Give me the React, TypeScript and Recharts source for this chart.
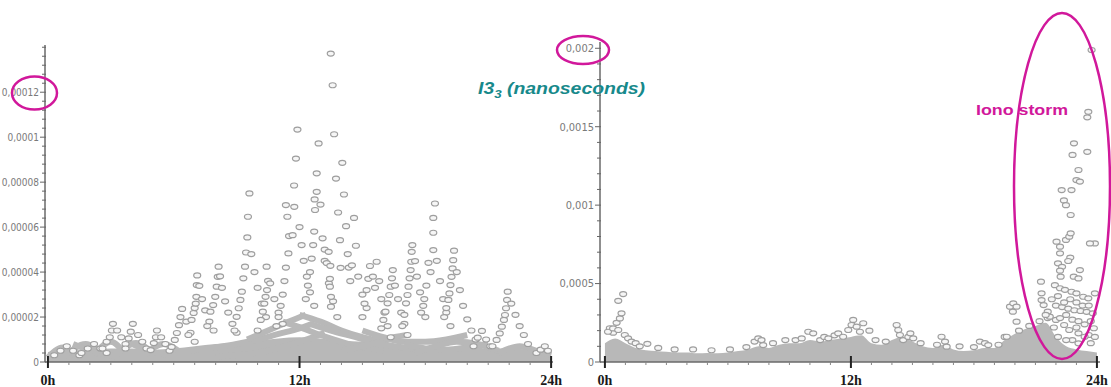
import React from "react";
import { ComposedChart, Scatter, Line, Area, XAxis, YAxis } from "recharts";

type Pt = [number, number];

// x: hour of day. left plot values in 1e-6, right plot values in 1e-5
const hourTicks = [0, 1, 2, 3, 4, 5, 6, 7, 8, 9, 10, 11, 12, 13, 14, 15, 16, 17, 18, 19, 20, 21, 22, 23, 24];
const hourLabels: Record<number, string> = { 0: "0h", 12: "12h", 24: "24h" };

const leftYTicks = [0, 4, 8, 12, 16, 20, 24, 28, 32, 36, 40, 44, 48, 52, 56, 60, 64, 68, 72, 76, 80, 84, 88, 92, 96, 100, 104, 108, 112, 116, 120, 124, 128, 132, 136, 140];
const leftYLabels: Record<number, string> = { 0: "0", 20: "0,00002", 40: "0,00004", 60: "0,00006", 80: "0,00008", 100: "0,0001", 120: "0,00012" };

const rightYTicks = [0, 10, 20, 30, 40, 50, 60, 70, 80, 90, 100, 110, 120, 130, 140, 150, 160, 170, 180, 190, 200];
const rightYLabels: Record<number, string> = { 0: "0", 50: "0,0005", 100: "0,001", 150: "0,0015", 200: "0,002" };

// ---- left plot (1e-6) ----
const leftFloor: Pt[] = [
  [0, 4.5], [1, 5.5], [2, 5], [3, 6], [4, 6], [5, 5.5], [6, 6], [7, 7], [8, 8], [9, 8.5], [10, 9.5], [11, 10.5], [12, 11],
  [13, 10.5], [14, 9.5], [15, 9], [16, 8], [17, 7.5], [18, 7], [19, 6.5], [20, 7], [21, 6], [22, 6], [23, 5.5], [24, 5],
];

const leftBands: Pt[][] = [
  [[0, 2], [0.7, 6.5], [1.3, 3]],
  [[0.8, 2.5], [1.8, 8], [2.6, 3.5]],
  [[1.2, 8], [2.2, 4.5], [3.2, 2.5]],
  [[2.2, 3], [3, 9], [3.6, 4.5]],
  [[3.3, 3.5], [4.2, 8.5], [5, 3.5]],
  [[3.8, 9], [4.8, 5], [5.8, 3]],
  [[4.6, 3], [5.5, 8], [6.3, 4.5]],
  [[6.8, 5], [8, 6.5], [9, 8], [10, 10], [11, 12.5], [12, 15], [12.6, 17]],
  [[8, 2.5], [9.5, 3.5], [10.5, 5], [11.5, 7.5], [12.5, 10.5], [13.2, 13]],
  [[9.5, 10], [10.5, 14], [11.5, 18], [12.3, 21]],
  [[11.2, 18], [12, 15.5], [13, 12], [14, 9], [15, 6.5], [16, 5]],
  [[12, 21], [13, 18], [14, 14], [15, 11], [16, 9]],
  [[12.5, 17], [13.5, 14], [14.5, 11.5], [15.5, 9], [16.5, 7], [17.5, 6]],
  [[14, 5], [15, 7], [15.8, 9], [16.5, 11], [17.2, 12]],
  [[15, 14], [16, 11], [17, 9], [18, 9], [19, 10], [20, 12]],
  [[17, 8], [18, 6], [19, 5.5], [20, 6.5], [21, 8]],
  [[17.5, 4], [18.5, 7], [19.5, 9], [20.5, 8], [21.5, 5]],
  [[21.5, 4], [22.5, 7], [23.3, 5], [24, 3]],
];

const leftMorning: Pt[] = [
  [0.3, 3], [0.6, 5], [0.9, 7], [1.2, 5], [1.5, 3],
  [1.6, 4], [1.9, 6], [2.2, 8], [2.5, 6], [2.8, 4],
  [2.6, 6], [2.8, 9], [2.95, 11], [3.05, 14], [3.1, 17], [3.3, 14], [3.5, 11], [3.7, 8],
  [3.7, 6], [3.85, 10.5], [3.95, 13.5], [4.05, 17], [4.3, 12], [4.5, 9], [4.7, 6],
  [4.9, 5.3], [5.05, 8.4], [5.15, 11], [5.2, 14], [5.4, 11], [5.6, 8], [5.8, 5],
  [5.9, 6.7], [6.05, 9.8], [6.15, 12.9], [6.25, 16.4], [6.32, 20], [6.4, 23.6], [6.6, 18], [6.8, 13], [7.0, 9],
];

const leftNoon: Pt[] = [
  [6.7, 12], [6.85, 18.7], [6.95, 21.8], [7.0, 24], [7.05, 26], [7.08, 29], [7.1, 34.2], [7.12, 38.5], [7.22, 33.9], [7.35, 28], [7.5, 23], [7.7, 18], [7.9, 14],
  [7.6, 16], [7.75, 22.4], [7.88, 25.3], [7.98, 29], [8.05, 33.5], [8.1, 37.9], [8.14, 42.4], [8.21, 38.1], [8.3, 33], [8.45, 27], [8.6, 22], [8.8, 17], [9.0, 13],
  [8.9, 14], [9.0, 20.1], [9.1, 23.9], [9.18, 27.6], [9.25, 31.3], [9.32, 37.2], [9.4, 42.4], [9.45, 48.7], [9.51, 55.4], [9.54, 64.6], [9.61, 75], [9.7, 48], [9.85, 40], [10.0, 33], [10.2, 26], [10.4, 20],
  [10.0, 14], [10.15, 18.7], [10.25, 22.4], [10.32, 26], [10.38, 29], [10.45, 32], [10.5, 36.1], [10.43, 42.4], [10.6, 35], [10.8, 28], [11.0, 22], [11.2, 17],
  [10.9, 16], [11.0, 20], [11.1, 25], [11.2, 30], [11.28, 36], [11.35, 42], [11.47, 48.3], [11.5, 56], [11.42, 64.6], [11.35, 69.8], [11.67, 56.4], [11.74, 78.5], [11.75, 69], [11.83, 90.5], [11.9, 103.4], [12.0, 60], [12.1, 52], [12.2, 45], [12.35, 38], [12.5, 31], [12.7, 25],
  [12.3, 28], [12.4, 34], [12.5, 40], [12.58, 46], [12.65, 52], [12.7, 58], [12.72, 72.3], [12.74, 67.6], [12.82, 75.7], [12.82, 83.9], [12.91, 97.2], [13.0, 70], [13.1, 55], [13.2, 45], [13.4, 35], [13.6, 27], [13.8, 20],
];

const leftAfternoon: Pt[] = [
  [13.2, 50], [13.3, 44], [13.39, 49], [13.47, 42.8], [13.45, 37], [13.45, 33.5], [13.5, 29], [13.5, 24.6],
  [13.49, 137.2], [13.58, 123.1], [13.65, 101.3], [13.74, 81.6], [13.84, 66.5], [13.93, 54.2], [13.96, 41.9], [14.04, 88.6], [14.12, 74.5], [14.22, 60.4], [14.3, 48], [14.35, 42], [14.42, 36], [14.5, 43], [14.6, 64.1], [14.69, 51.7], [14.8, 38], [15.0, 30], [15.2, 24],
  [15.0, 20], [15.1, 26], [15.2, 32], [15.28, 37], [15.36, 42.7], [15.5, 38], [15.6, 33], [15.68, 44.6], [15.8, 36], [15.9, 28], [16.05, 22], [16.2, 16], [16.35, 11],
  [15.9, 15], [16.0, 18.7], [16.1, 22.4], [16.2, 26.1], [16.28, 29.8], [16.35, 33.5], [16.41, 37.2], [16.45, 40.9], [16.55, 34], [16.7, 28], [16.85, 22], [17.0, 17], [17.15, 12],
  [16.9, 16], [17.0, 21], [17.08, 26.1], [17.15, 29.8], [17.2, 33.5], [17.25, 37.2], [17.3, 40.9], [17.33, 44.6], [17.35, 49], [17.38, 52], [17.51, 44.9], [17.6, 38], [17.75, 31], [17.9, 25], [18.0, 20],
  [17.8, 22], [17.95, 28], [18.05, 34], [18.15, 44.1], [18.25, 40], [18.38, 49.8], [18.38, 57.5], [18.38, 64.1], [18.46, 70.5], [18.55, 45], [18.7, 36], [18.85, 28], [19.0, 22], [19.2, 16],
  [18.9, 20], [19.0, 24], [19.1, 27.6], [19.15, 30.5], [19.2, 34.2], [19.25, 37.9], [19.3, 41.6], [19.33, 45.3], [19.37, 49.5], [19.5, 40], [19.65, 32], [19.8, 25], [20.0, 19], [20.2, 14], [20.4, 10],
  [20.3, 7], [20.5, 10.8], [20.7, 13.8], [20.9, 10], [21.1, 7],
  [21.2, 7], [21.4, 9.8], [21.55, 12.7], [21.65, 15.7], [21.75, 18.7], [21.8, 20.9], [21.85, 23.9], [21.9, 27.6], [21.93, 31.3], [22.1, 26], [22.3, 21], [22.5, 16], [22.7, 12], [22.9, 8],
  [23.3, 4], [23.5, 5.5], [23.7, 7], [23.85, 5],
];

// ---- right plot (1e-5) ----
const rightFloor: Pt[] = [
  [0, 12], [0.5, 15], [1, 12], [1.5, 9], [2, 7.5], [2.5, 7], [3, 6.5], [3.5, 6], [4, 6], [4.5, 5.5], [5, 5.7], [5.5, 5.5],
  [6, 6], [6.5, 7], [7, 8], [7.5, 10], [8, 9], [8.5, 11], [9, 12], [9.5, 12], [10, 14], [10.5, 13], [11, 14], [11.5, 15],
  [12, 16], [12.5, 17], [13, 12], [13.5, 11], [14, 14], [14.5, 16], [15, 13], [15.5, 10], [16, 9], [16.5, 11], [17, 8],
  [17.5, 7], [18, 7.5], [18.5, 9], [19, 9], [19.5, 14], [20, 18], [20.5, 21], [21, 23], [21.5, 25], [22, 16], [22.5, 10],
  [23, 8], [23.5, 7], [24, 6],
];

const rightDay: Pt[] = [
  [0.24, 21.5], [0.4, 18.7], [0.57, 25], [0.65, 39], [0.73, 27.8], [0.81, 31], [0.89, 43.3], [0.15, 19.3], [0.4, 21.4], [0.65, 20.4], [0.97, 17.2], [1.13, 15.1], [1.3, 13], [1.5, 12], [2.07, 11.6],
  [1.7, 10], [2.6, 9], [3.4, 8], [4.3, 8], [5.2, 7.5], [6.1, 8], [6.9, 9.5], [7.3, 13], [7.48, 15.1], [7.64, 14], [7.72, 10.8], [8.2, 12], [8.8, 14], [9.3, 14],
  [9.6, 15], [9.92, 19.3], [10.16, 18.3], [10.5, 14], [10.7, 16], [10.9, 15.1], [11.2, 17], [11.38, 18.3], [11.62, 16.1], [11.87, 20.4], [12.03, 23.6], [12.11, 26.8], [12.28, 22.5], [12.44, 19.3], [12.6, 24.7], [12.9, 20],
  [13.2, 14], [13.7, 13], [14.23, 23.6], [14.31, 20.4], [14.39, 17.2], [14.55, 14], [14.8, 16], [14.9, 18.3], [15.04, 15.1], [15.4, 12], [16.2, 11], [16.42, 16.1], [16.59, 13], [16.67, 9.8],
  [17.3, 10], [18, 9.5], [18.29, 13], [18.54, 12], [18.7, 10.8], [19.2, 11], [19.5, 16], [19.6, 16.1], [19.76, 35.3], [19.92, 37.4], [20.08, 35.3], [19.9, 32.1], [20.08, 25.7],
  [20.2, 20], [20.7, 23], [21.2, 26], [21.6, 28],
];

const rightStorm: Pt[] = [
  [23.74, 198.9], [23.58, 159.5], [23.53, 156], [22.88, 139.4], [22.81, 132], [23.53, 134], [23.1, 122.4], [23.0, 116], [23.17, 115],
  [22.28, 109.6], [22.76, 109.6], [22.39, 103], [22.49, 100], [22.72, 93.7], [22.03, 76.7], [22.2, 73.5], [22.49, 77.8], [22.65, 79.9], [22.72, 82],
  [23.9, 75.6], [23.66, 75.6], [22.2, 69.3], [22.7, 66.6], [22.6, 64.4], [22.1, 62.9], [22.3, 60.7], [22.2, 58.2], [23.17, 58.6], [22.23, 54.4], [22.87, 54.4], [23.1, 53.3],
  [21.27, 51.2], [21.95, 49], [22.2, 47], [22.44, 46], [22.76, 44.8], [23.0, 43.8], [23.33, 41.6], [23.58, 40.6], [23.9, 43.8],
  [21.3, 43.8], [21.3, 39.5], [21.4, 36.3], [21.6, 32.1], [21.7, 28.9], [22.0, 36], [22.3, 35], [22.6, 34], [22.9, 33], [23.2, 32.5], [23.5, 32], [23.8, 31],
  [22.0, 26.8], [22.4, 23.6], [22.65, 20.4], [23.1, 18.3], [23.6, 17.2], [23.85, 21.5], [22.8, 14], [23.1, 11.9], [23.4, 16.1],
  [21.5, 30], [21.8, 40], [22.1, 42], [22.4, 38], [22.7, 40], [23.0, 38], [23.3, 36], [23.6, 36], [21.9, 22], [22.2, 28], [22.5, 30], [22.8, 27],
  [23.1, 26], [23.4, 24], [23.7, 26], [22.1, 16], [22.5, 14], [23.0, 22], [23.7, 12], [23.9, 16],
];

const rows = (pts: Pt[]) => pts.map(([h, v]) => ({ h, v }));

const GREY = "#b8b8b8";
const MAGENTA = "#d1189b";

const Marker = (p: any) => (
  <ellipse cx={p.cx} cy={p.cy} rx={3.5} ry={2.5} fill="#f6f6f6" stroke="#9e9e9e" strokeWidth={1.2} />
);

const HourTick = (p: any) => {
  const { x, y, payload } = p;
  const label = hourLabels[payload.value];
  if (label === undefined) {
    return <line x1={x} x2={x} y1={y} y2={y + 3} stroke="#888" strokeWidth={1} />;
  }
  return (
    <g>
      <line x1={x} x2={x} y1={y - 6} y2={y + 6} stroke="#222" strokeWidth={2} />
      <text x={x} y={y + 23} textAnchor="middle" fontFamily="'Liberation Serif', 'Times New Roman', serif" fontWeight="bold" fontSize={14} fill="#1a1a1a">
        {label}
      </text>
    </g>
  );
};

const makeValueTick = (labels: Record<number, string>, size: number) => (p: any) => {
  const { x, y, payload } = p;
  const label = labels[payload.value];
  return (
    <g>
      <line x1={x - (label ? 5 : 3)} x2={x + 1} y1={y} y2={y} stroke="#666" strokeWidth={1} />
      {label && (
        <text x={x - 6} y={y} dy="0.35em" textAnchor="end" fontFamily="'Liberation Sans Narrow', 'DejaVu Sans Condensed', 'Arial Narrow', sans-serif" fontSize={size} fill="#7a7a7a">
          {label}
        </text>
      )}
    </g>
  );
};

interface PanelProps {
  width: number;
  margin: { top: number; right: number; bottom: number; left: number };
  xDomain: [number, number];
  yDomain: [number, number];
  yTicks: number[];
  yLabels: Record<number, string>;
  labelSize: number;
  floor: Pt[];
  bands: Pt[][];
  points: Pt[];
}

function Panel({ width, margin, xDomain, yDomain, yTicks, yLabels, labelSize, floor, bands, points }: PanelProps) {
  return (
    <ComposedChart width={width} height={387} margin={margin}>
      <XAxis
        type="number"
        dataKey="h"
        domain={xDomain}
        ticks={hourTicks}
        interval={0}
        tick={HourTick}
        tickLine={false}
        tickSize={0}
        tickMargin={0}
        axisLine={{ stroke: "#6a6a6a", strokeWidth: 1.5 }}
        height={25}
        allowDataOverflow
      />
      <YAxis
        type="number"
        dataKey="v"
        domain={yDomain}
        ticks={yTicks}
        interval={0}
        tick={makeValueTick(yLabels, labelSize)}
        tickLine={false}
        tickSize={0}
        tickMargin={0}
        axisLine={{ stroke: "#6a6a6a", strokeWidth: 1.5 }}
        width={45}
        allowDataOverflow
      />
      <Area data={rows(floor)} dataKey="v" type="monotone" stroke="none" fill={GREY} fillOpacity={1} isAnimationActive={false} />
      {bands.map((b, i) => (
        <Line key={i} data={rows(b)} dataKey="v" type="monotone" stroke={GREY} strokeWidth={6} dot={false} isAnimationActive={false} />
      ))}
      <Scatter data={rows(points)} shape={Marker} isAnimationActive={false} />
    </ComposedChart>
  );
}

export default function App() {
  return (
    <div style={{ position: "absolute", left: 0, top: 0, width: 1111, height: 387, background: "#fff", overflow: "hidden" }}>
      <div style={{ position: "absolute", left: 0, top: 0 }}>
        <Panel
          width={575}
          margin={{ top: 45, right: 22, bottom: 0, left: 0 }}
          xDomain={[-0.14, 24.09]}
          yDomain={[0, 141]}
          yTicks={leftYTicks}
          yLabels={leftYLabels}
          labelSize={10}
          floor={leftFloor}
          bands={leftBands}
          points={[...leftMorning, ...leftNoon, ...leftAfternoon]}
        />
      </div>
      <div style={{ position: "absolute", left: 555, top: 0 }}>
        <Panel
          width={556}
          margin={{ top: 42, right: 11, bottom: 0, left: 0 }}
          xDomain={[-0.24, 24.15]}
          yDomain={[0, 204]}
          yTicks={rightYTicks}
          yLabels={rightYLabels}
          labelSize={11}
          floor={rightFloor}
          bands={[]}
          points={[...rightDay, ...rightStorm]}
        />
      </div>
      <svg width={1111} height={387} style={{ position: "absolute", left: 0, top: 0, pointerEvents: "none" }}>
        <ellipse cx={34.5} cy={93} rx={22.5} ry={16.5} fill="none" stroke={MAGENTA} strokeWidth={2.5} />
        <ellipse cx={583} cy={50} rx={26} ry={14} fill="none" stroke={MAGENTA} strokeWidth={2.5} />
        <ellipse cx={1062} cy={186} rx={48} ry={173} fill="none" stroke={MAGENTA} strokeWidth={2.5} />
        <text x={478} y={94} textLength={167} lengthAdjust="spacingAndGlyphs" fontFamily="'Liberation Sans', Arial, sans-serif" fontWeight="bold" fontStyle="italic" fontSize={16} fill="#17898b">
          I3<tspan dy={4} fontSize={11}>3</tspan>
          <tspan dy={-4}> (nanoseconds)</tspan>
        </text>
        <text x={976} y={115} textLength={92} lengthAdjust="spacingAndGlyphs" fontFamily="'Liberation Sans', Arial, sans-serif" fontWeight="bold" fontSize={15} fill={MAGENTA}>
          Iono storm
        </text>
      </svg>
    </div>
  );
}
